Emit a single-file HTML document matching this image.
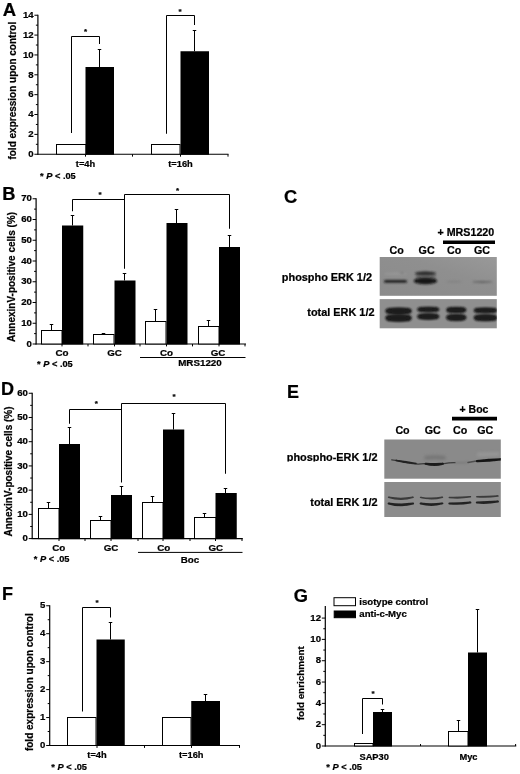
<!DOCTYPE html>
<html><head><meta charset="utf-8"><title>Figure</title>
<style>
html,body{margin:0;padding:0;background:#fff;}
body{width:520px;height:774px;overflow:hidden;}
svg{display:block;}
svg text{font-family:"Liberation Sans",Arial,Helvetica,sans-serif;font-weight:bold;fill:#000;stroke:#000;stroke-width:0.22px;}
</style></head><body>
<svg width="520" height="774" viewBox="0 0 520 774">
<defs>
<filter id="b1" filterUnits="userSpaceOnUse" x="370" y="250" width="140" height="275"><feGaussianBlur stdDeviation="0.9"/></filter>
<filter id="b2" filterUnits="userSpaceOnUse" x="370" y="250" width="140" height="275"><feGaussianBlur stdDeviation="1.3"/></filter>
<filter id="b3" filterUnits="userSpaceOnUse" x="370" y="250" width="140" height="275"><feGaussianBlur stdDeviation="1.8"/></filter>
<filter id="b0" filterUnits="userSpaceOnUse" x="370" y="250" width="140" height="275"><feGaussianBlur stdDeviation="0.7"/></filter>
<linearGradient id="gC1" x1="0" y1="1" x2="1" y2="0"><stop offset="0" stop-color="#8b8b8b"/><stop offset="0.6" stop-color="#8f8f8f"/><stop offset="1" stop-color="#999"/></linearGradient>
</defs>
<rect width="520" height="774" fill="#fff"/>

<g id="panelA">
<text x="2.8" y="15.6" font-size="18.5" text-anchor="start" >A</text>
<line x1="37.9" y1="14.73" x2="37.9" y2="154.75" stroke="#000" stroke-width="1.2"/>
<line x1="34.4" y1="154.25" x2="37.9" y2="154.25" stroke="#000" stroke-width="1"/>
<text x="33.6" y="156.95" font-size="9.6" text-anchor="end" >0</text>
<line x1="34.4" y1="134.39" x2="37.9" y2="134.39" stroke="#000" stroke-width="1"/>
<text x="33.6" y="137.09" font-size="9.6" text-anchor="end" >2</text>
<line x1="34.4" y1="114.53" x2="37.9" y2="114.53" stroke="#000" stroke-width="1"/>
<text x="33.6" y="117.23" font-size="9.6" text-anchor="end" >4</text>
<line x1="34.4" y1="94.67" x2="37.9" y2="94.67" stroke="#000" stroke-width="1"/>
<text x="33.6" y="97.37" font-size="9.6" text-anchor="end" >6</text>
<line x1="34.4" y1="74.81" x2="37.9" y2="74.81" stroke="#000" stroke-width="1"/>
<text x="33.6" y="77.51" font-size="9.6" text-anchor="end" >8</text>
<line x1="34.4" y1="54.95" x2="37.9" y2="54.95" stroke="#000" stroke-width="1"/>
<text x="33.6" y="57.65" font-size="9.6" text-anchor="end" >10</text>
<line x1="34.4" y1="35.09" x2="37.9" y2="35.09" stroke="#000" stroke-width="1"/>
<text x="33.6" y="37.79" font-size="9.6" text-anchor="end" >12</text>
<line x1="34.4" y1="15.23" x2="37.9" y2="15.23" stroke="#000" stroke-width="1"/>
<text x="33.6" y="17.93" font-size="9.6" text-anchor="end" >14</text>
<line x1="35.9" y1="144.32" x2="37.9" y2="144.32" stroke="#000" stroke-width="1"/>
<line x1="35.9" y1="124.46" x2="37.9" y2="124.46" stroke="#000" stroke-width="1"/>
<line x1="35.9" y1="104.6" x2="37.9" y2="104.6" stroke="#000" stroke-width="1"/>
<line x1="35.9" y1="84.74" x2="37.9" y2="84.74" stroke="#000" stroke-width="1"/>
<line x1="35.9" y1="64.88" x2="37.9" y2="64.88" stroke="#000" stroke-width="1"/>
<line x1="35.9" y1="45.02" x2="37.9" y2="45.02" stroke="#000" stroke-width="1"/>
<line x1="35.9" y1="25.16" x2="37.9" y2="25.16" stroke="#000" stroke-width="1"/>
<line x1="37.4" y1="154.25" x2="228.5" y2="154.25" stroke="#000" stroke-width="1.2"/>
<line x1="85.5" y1="154.25" x2="85.5" y2="156.65" stroke="#000" stroke-width="1"/>
<line x1="132.5" y1="154.25" x2="132.5" y2="156.65" stroke="#000" stroke-width="1"/>
<line x1="180.5" y1="154.25" x2="180.5" y2="156.65" stroke="#000" stroke-width="1"/>
<line x1="228" y1="154.25" x2="228" y2="156.65" stroke="#000" stroke-width="1"/>
<text transform="translate(16.2,90.7) rotate(-90)" font-size="10" text-anchor="middle">fold expression upon control</text>
<rect x="56.5" y="144.5" width="29.5" height="9.75" fill="#fff" stroke="#000" stroke-width="1"/>
<rect x="85.5" y="67" width="28.5" height="87.75" fill="#000" stroke="none" stroke-width="0"/>
<line x1="99.5" y1="49.5" x2="99.5" y2="67" stroke="#000" stroke-width="1"/>
<line x1="97.75" y1="49.5" x2="101.25" y2="49.5" stroke="#000" stroke-width="1"/>
<rect x="151.5" y="144.5" width="28.5" height="9.75" fill="#fff" stroke="#000" stroke-width="1"/>
<rect x="180.5" y="51.25" width="28.5" height="103.5" fill="#000" stroke="none" stroke-width="0"/>
<line x1="194.5" y1="30.5" x2="194.5" y2="51.25" stroke="#000" stroke-width="1"/>
<line x1="192.75" y1="30.5" x2="196.25" y2="30.5" stroke="#000" stroke-width="1"/>
<polyline points="71.5,133 71.5,36.5 99.5,36.5 99.5,44" fill="none" stroke="#000" stroke-width="1"/>
<text x="85.6" y="34.15" font-size="8" text-anchor="middle" >*</text>
<polyline points="166.5,133.75 166.5,15.5 194.5,15.5 194.5,25" fill="none" stroke="#000" stroke-width="1"/>
<text x="180" y="13.9" font-size="8" text-anchor="middle" >*</text>
<text x="85.5" y="167" font-size="9.3" text-anchor="middle" >t=4h</text>
<text x="180.5" y="167" font-size="9.3" text-anchor="middle" >t=16h</text>
<text x="40" y="179" font-size="9.25" text-anchor="start" >* <tspan font-style="italic">P</tspan> &lt; .05</text>
</g>
<g id="panelB">
<text x="2.3" y="200" font-size="18.3" text-anchor="start" >B</text>
<line x1="36.1" y1="198.25" x2="36.1" y2="344.5" stroke="#000" stroke-width="1.2"/>
<line x1="32.6" y1="344.0" x2="36.1" y2="344.0" stroke="#000" stroke-width="1"/>
<text x="31.8" y="346.7" font-size="9.6" text-anchor="end" >0</text>
<line x1="32.6" y1="323.25" x2="36.1" y2="323.25" stroke="#000" stroke-width="1"/>
<text x="31.8" y="325.95" font-size="9.6" text-anchor="end" >10</text>
<line x1="32.6" y1="302.5" x2="36.1" y2="302.5" stroke="#000" stroke-width="1"/>
<text x="31.8" y="305.2" font-size="9.6" text-anchor="end" >20</text>
<line x1="32.6" y1="281.75" x2="36.1" y2="281.75" stroke="#000" stroke-width="1"/>
<text x="31.8" y="284.45" font-size="9.6" text-anchor="end" >30</text>
<line x1="32.6" y1="261.0" x2="36.1" y2="261.0" stroke="#000" stroke-width="1"/>
<text x="31.8" y="263.7" font-size="9.6" text-anchor="end" >40</text>
<line x1="32.6" y1="240.25" x2="36.1" y2="240.25" stroke="#000" stroke-width="1"/>
<text x="31.8" y="242.95" font-size="9.6" text-anchor="end" >50</text>
<line x1="32.6" y1="219.5" x2="36.1" y2="219.5" stroke="#000" stroke-width="1"/>
<text x="31.8" y="222.2" font-size="9.6" text-anchor="end" >60</text>
<line x1="32.6" y1="198.75" x2="36.1" y2="198.75" stroke="#000" stroke-width="1"/>
<text x="31.8" y="201.45" font-size="9.6" text-anchor="end" >70</text>
<line x1="34.1" y1="333.62" x2="36.1" y2="333.62" stroke="#000" stroke-width="1"/>
<line x1="34.1" y1="312.88" x2="36.1" y2="312.88" stroke="#000" stroke-width="1"/>
<line x1="34.1" y1="292.12" x2="36.1" y2="292.12" stroke="#000" stroke-width="1"/>
<line x1="34.1" y1="271.38" x2="36.1" y2="271.38" stroke="#000" stroke-width="1"/>
<line x1="34.1" y1="250.62" x2="36.1" y2="250.62" stroke="#000" stroke-width="1"/>
<line x1="34.1" y1="229.88" x2="36.1" y2="229.88" stroke="#000" stroke-width="1"/>
<line x1="34.1" y1="209.12" x2="36.1" y2="209.12" stroke="#000" stroke-width="1"/>
<line x1="35.6" y1="344" x2="246.0" y2="344" stroke="#000" stroke-width="1.2"/>
<line x1="62" y1="344" x2="62" y2="346.4" stroke="#000" stroke-width="1"/>
<line x1="88" y1="344" x2="88" y2="346.4" stroke="#000" stroke-width="1"/>
<line x1="114.5" y1="344" x2="114.5" y2="346.4" stroke="#000" stroke-width="1"/>
<line x1="140" y1="344" x2="140" y2="346.4" stroke="#000" stroke-width="1"/>
<line x1="166.5" y1="344" x2="166.5" y2="346.4" stroke="#000" stroke-width="1"/>
<line x1="192.5" y1="344" x2="192.5" y2="346.4" stroke="#000" stroke-width="1"/>
<line x1="219" y1="344" x2="219" y2="346.4" stroke="#000" stroke-width="1"/>
<line x1="245" y1="344" x2="245" y2="346.4" stroke="#000" stroke-width="1"/>
<text transform="translate(14.6,277) rotate(-90)" font-size="10" text-anchor="middle">AnnexinV-positive cells (%)</text>
<rect x="41.5" y="330.5" width="20.5" height="13.5" fill="#fff" stroke="#000" stroke-width="1"/>
<line x1="51.5" y1="324.5" x2="51.5" y2="330" stroke="#000" stroke-width="1"/>
<line x1="49.75" y1="324.5" x2="53.25" y2="324.5" stroke="#000" stroke-width="1"/>
<rect x="62" y="225.5" width="21.25" height="119.0" fill="#000" stroke="none" stroke-width="0"/>
<line x1="72.5" y1="215.5" x2="72.5" y2="225.5" stroke="#000" stroke-width="1"/>
<line x1="70.75" y1="215.5" x2="74.25" y2="215.5" stroke="#000" stroke-width="1"/>
<rect x="93.5" y="334.5" width="20.5" height="9.5" fill="#fff" stroke="#000" stroke-width="1"/>
<line x1="103.5" y1="333.5" x2="103.5" y2="334.5" stroke="#000" stroke-width="1"/>
<line x1="101.75" y1="333.5" x2="105.25" y2="333.5" stroke="#000" stroke-width="1"/>
<rect x="114.5" y="280.5" width="21.0" height="64.0" fill="#000" stroke="none" stroke-width="0"/>
<line x1="124.5" y1="273.5" x2="124.5" y2="280.5" stroke="#000" stroke-width="1"/>
<line x1="122.75" y1="273.5" x2="126.25" y2="273.5" stroke="#000" stroke-width="1"/>
<rect x="145.5" y="321.5" width="20.5" height="22.5" fill="#fff" stroke="#000" stroke-width="1"/>
<line x1="155.5" y1="309.5" x2="155.5" y2="321.25" stroke="#000" stroke-width="1"/>
<line x1="153.75" y1="309.5" x2="157.25" y2="309.5" stroke="#000" stroke-width="1"/>
<rect x="166.5" y="223" width="21.0" height="121.5" fill="#000" stroke="none" stroke-width="0"/>
<line x1="176.5" y1="209.5" x2="176.5" y2="223" stroke="#000" stroke-width="1"/>
<line x1="174.75" y1="209.5" x2="178.25" y2="209.5" stroke="#000" stroke-width="1"/>
<rect x="198.5" y="326.5" width="20.5" height="17.5" fill="#fff" stroke="#000" stroke-width="1"/>
<line x1="208.5" y1="320.5" x2="208.5" y2="326.5" stroke="#000" stroke-width="1"/>
<line x1="206.75" y1="320.5" x2="210.25" y2="320.5" stroke="#000" stroke-width="1"/>
<rect x="219" y="247" width="21" height="97.5" fill="#000" stroke="none" stroke-width="0"/>
<line x1="229.5" y1="235.5" x2="229.5" y2="247" stroke="#000" stroke-width="1"/>
<line x1="227.75" y1="235.5" x2="231.25" y2="235.5" stroke="#000" stroke-width="1"/>
<polyline points="72.5,211.25 72.5,199.5 124.5,199.5 124.5,200" fill="none" stroke="#000" stroke-width="1"/>
<polyline points="124.5,268.75 124.5,194.5 229.5,194.5 229.5,228.75" fill="none" stroke="#000" stroke-width="1"/>
<text x="100" y="197.4" font-size="8" text-anchor="middle" >*</text>
<text x="177.5" y="193.15" font-size="8" text-anchor="middle" >*</text>
<text x="62" y="355.6" font-size="9.8" text-anchor="middle" >Co</text>
<text x="114.5" y="355.6" font-size="9.8" text-anchor="middle" >GC</text>
<text x="166.5" y="355.6" font-size="9.8" text-anchor="middle" >Co</text>
<text x="218" y="355.6" font-size="9.8" text-anchor="middle" >GC</text>
<line x1="140" y1="357.5" x2="245.5" y2="357.5" stroke="#000" stroke-width="1"/>
<text x="200" y="366" font-size="9.8" text-anchor="middle" >MRS1220</text>
<text x="37" y="367" font-size="9.25" text-anchor="start" >* <tspan font-style="italic">P</tspan> &lt; .05</text>
</g>
<g id="panelC">
<text x="284" y="203" font-size="18.3" text-anchor="start" >C</text>
<text x="437.5" y="235.5" font-size="10.7" text-anchor="start" >+ MRS1220</text>
<rect x="443" y="240.5" width="52" height="3.5" fill="#000" stroke="none" stroke-width="0"/>
<text x="396.6" y="253.8" font-size="10.7" text-anchor="middle" >Co</text>
<text x="426.6" y="253.8" font-size="10.7" text-anchor="middle" >GC</text>
<text x="454.1" y="253.8" font-size="10.7" text-anchor="middle" >Co</text>
<text x="481.9" y="253.8" font-size="10.7" text-anchor="middle" >GC</text>
<text x="372" y="281.3" font-size="10.9" text-anchor="end" >phospho ERK 1/2</text>
<text x="374.5" y="315.5" font-size="10.9" text-anchor="end" >total ERK 1/2</text>
<clipPath id="clipC2"><rect x="379.7" y="299.1" width="117.1" height="29.2"/></clipPath>
<rect x="379.7" y="257" width="117.1" height="38.8" fill="url(#gC1)" stroke="none" stroke-width="0"/>
<rect x="379.7" y="299.1" width="117.1" height="29.2" fill="#8f8f8f" stroke="none" stroke-width="0"/>
<ellipse cx="395.5" cy="273.9" rx="11.5" ry="1.1" fill="#a4a4a4" opacity="0.45" filter="url(#b1)" transform="rotate(0 395.5 273.9)"/>
<ellipse cx="402" cy="273" rx="2" ry="0.8" fill="#666" opacity="0.6" filter="url(#b1)" transform="rotate(0 402 273)"/>
<rect x="384" y="279.95" width="23" height="2.9" rx="1.45" fill="#1e1e1e" opacity="1" filter="url(#b1)"/>
<rect x="416" y="272" width="19.5" height="9" fill="#444" opacity="0.45" filter="url(#b2)"/>
<ellipse cx="425.3" cy="273.4" rx="10.3" ry="1.8" fill="#2e2e2e" opacity="1" filter="url(#b1)" transform="rotate(0 425.3 273.4)"/>
<ellipse cx="425.4" cy="281" rx="11.8" ry="3.3" fill="#121212" opacity="1" filter="url(#b1)" transform="rotate(0 425.4 281)"/>
<ellipse cx="454" cy="281.6" rx="8" ry="0.8" fill="#777" opacity="0.55" filter="url(#b1)" transform="rotate(0 454 281.6)"/>
<ellipse cx="482.4" cy="281.9" rx="10" ry="1" fill="#555" opacity="0.75" filter="url(#b1)" transform="rotate(0 482.4 281.9)"/>
<g clip-path="url(#clipC2)">
<rect x="386.3" y="308.2" width="24.599999999999966" height="5.6000000000000005" rx="2.8000000000000003" fill="#1e1e1e" filter="url(#b1)"/>
<ellipse cx="398.6" cy="311" rx="13.299999999999983" ry="3.2" fill="#1e1e1e" opacity="1" filter="url(#b1)" transform="rotate(0 398.6 311)"/>
<rect x="386.3" y="314.9" width="24.599999999999966" height="6.2" rx="3.1" fill="#1e1e1e" filter="url(#b1)"/>
<ellipse cx="398.6" cy="318" rx="13.299999999999983" ry="3.5" fill="#1e1e1e" opacity="1" filter="url(#b1)" transform="rotate(0 398.6 318)"/>
<rect x="418" y="307.5" width="20.5" height="4.0" rx="2.0" fill="#1e1e1e" filter="url(#b1)"/>
<ellipse cx="428.25" cy="309.5" rx="11.25" ry="2.4" fill="#1e1e1e" opacity="1" filter="url(#b1)" transform="rotate(0 428.25 309.5)"/>
<rect x="418" y="314.0" width="20.5" height="5.0" rx="2.5" fill="#1e1e1e" filter="url(#b1)"/>
<ellipse cx="428.25" cy="316.5" rx="11.25" ry="2.9" fill="#1e1e1e" opacity="1" filter="url(#b1)" transform="rotate(0 428.25 316.5)"/>
<rect x="447" y="307.59999999999997" width="18.5" height="4.8" rx="2.4" fill="#1e1e1e" filter="url(#b1)"/>
<ellipse cx="456.25" cy="310" rx="10.25" ry="2.8" fill="#1e1e1e" opacity="1" filter="url(#b1)" transform="rotate(0 456.25 310)"/>
<rect x="447" y="314.7" width="18.5" height="5.6000000000000005" rx="2.8000000000000003" fill="#1e1e1e" filter="url(#b1)"/>
<ellipse cx="456.25" cy="317.5" rx="10.25" ry="3.2" fill="#1e1e1e" opacity="1" filter="url(#b1)" transform="rotate(0 456.25 317.5)"/>
<rect x="474.6" y="308.19999999999993" width="21.899999999999977" height="4.4" rx="2.2" fill="#1e1e1e" filter="url(#b1)"/>
<ellipse cx="485.55" cy="310.4" rx="11.949999999999989" ry="2.6" fill="#1e1e1e" opacity="1" filter="url(#b1)" transform="rotate(0 485.55 310.4)"/>
<rect x="474.6" y="315.0" width="21.899999999999977" height="5.6000000000000005" rx="2.8000000000000003" fill="#1e1e1e" filter="url(#b1)"/>
<ellipse cx="485.55" cy="317.8" rx="11.949999999999989" ry="3.2" fill="#1e1e1e" opacity="1" filter="url(#b1)" transform="rotate(0 485.55 317.8)"/>
</g>
</g>
<g id="panelD">
<text x="1" y="395" font-size="18" text-anchor="start" >D</text>
<line x1="32.2" y1="392.75" x2="32.2" y2="539.1" stroke="#000" stroke-width="1.2"/>
<line x1="28.700000000000003" y1="538.6" x2="32.2" y2="538.6" stroke="#000" stroke-width="1"/>
<text x="27.900000000000002" y="541.3" font-size="9.6" text-anchor="end" >0</text>
<line x1="28.700000000000003" y1="514.38" x2="32.2" y2="514.38" stroke="#000" stroke-width="1"/>
<text x="27.900000000000002" y="517.08" font-size="9.6" text-anchor="end" >10</text>
<line x1="28.700000000000003" y1="490.15" x2="32.2" y2="490.15" stroke="#000" stroke-width="1"/>
<text x="27.900000000000002" y="492.85" font-size="9.6" text-anchor="end" >20</text>
<line x1="28.700000000000003" y1="465.93" x2="32.2" y2="465.93" stroke="#000" stroke-width="1"/>
<text x="27.900000000000002" y="468.63" font-size="9.6" text-anchor="end" >30</text>
<line x1="28.700000000000003" y1="441.7" x2="32.2" y2="441.7" stroke="#000" stroke-width="1"/>
<text x="27.900000000000002" y="444.4" font-size="9.6" text-anchor="end" >40</text>
<line x1="28.700000000000003" y1="417.48" x2="32.2" y2="417.48" stroke="#000" stroke-width="1"/>
<text x="27.900000000000002" y="420.18" font-size="9.6" text-anchor="end" >50</text>
<line x1="28.700000000000003" y1="393.25" x2="32.2" y2="393.25" stroke="#000" stroke-width="1"/>
<text x="27.900000000000002" y="395.95" font-size="9.6" text-anchor="end" >60</text>
<line x1="30.200000000000003" y1="526.49" x2="32.2" y2="526.49" stroke="#000" stroke-width="1"/>
<line x1="30.200000000000003" y1="502.26" x2="32.2" y2="502.26" stroke="#000" stroke-width="1"/>
<line x1="30.200000000000003" y1="478.04" x2="32.2" y2="478.04" stroke="#000" stroke-width="1"/>
<line x1="30.200000000000003" y1="453.81" x2="32.2" y2="453.81" stroke="#000" stroke-width="1"/>
<line x1="30.200000000000003" y1="429.59" x2="32.2" y2="429.59" stroke="#000" stroke-width="1"/>
<line x1="30.200000000000003" y1="405.36" x2="32.2" y2="405.36" stroke="#000" stroke-width="1"/>
<line x1="31.700000000000003" y1="538.6" x2="242.8" y2="538.6" stroke="#000" stroke-width="1.2"/>
<line x1="59" y1="538.6" x2="59" y2="541.0" stroke="#000" stroke-width="1"/>
<line x1="85" y1="538.6" x2="85" y2="541.0" stroke="#000" stroke-width="1"/>
<line x1="111" y1="538.6" x2="111" y2="541.0" stroke="#000" stroke-width="1"/>
<line x1="138" y1="538.6" x2="138" y2="541.0" stroke="#000" stroke-width="1"/>
<line x1="163" y1="538.6" x2="163" y2="541.0" stroke="#000" stroke-width="1"/>
<line x1="190" y1="538.6" x2="190" y2="541.0" stroke="#000" stroke-width="1"/>
<line x1="215.5" y1="538.6" x2="215.5" y2="541.0" stroke="#000" stroke-width="1"/>
<line x1="242" y1="538.6" x2="242" y2="541.0" stroke="#000" stroke-width="1"/>
<text transform="translate(11.7,471.5) rotate(-90)" font-size="10" text-anchor="middle">AnnexinV-positive cells (%)</text>
<rect x="38.5" y="508.5" width="20.5" height="30.100000000000023" fill="#fff" stroke="#000" stroke-width="1"/>
<line x1="48.5" y1="502.5" x2="48.5" y2="508.75" stroke="#000" stroke-width="1"/>
<line x1="46.75" y1="502.5" x2="50.25" y2="502.5" stroke="#000" stroke-width="1"/>
<rect x="59" y="444" width="21" height="95.1" fill="#000" stroke="none" stroke-width="0"/>
<line x1="69.5" y1="427.5" x2="69.5" y2="444" stroke="#000" stroke-width="1"/>
<line x1="67.75" y1="427.5" x2="71.25" y2="427.5" stroke="#000" stroke-width="1"/>
<rect x="90.5" y="520.5" width="20.5" height="18.100000000000023" fill="#fff" stroke="#000" stroke-width="1"/>
<line x1="100.5" y1="516.5" x2="100.5" y2="520.5" stroke="#000" stroke-width="1"/>
<line x1="98.75" y1="516.5" x2="102.25" y2="516.5" stroke="#000" stroke-width="1"/>
<rect x="111" y="495" width="21" height="44.1" fill="#000" stroke="none" stroke-width="0"/>
<line x1="121.5" y1="486.5" x2="121.5" y2="495" stroke="#000" stroke-width="1"/>
<line x1="119.75" y1="486.5" x2="123.25" y2="486.5" stroke="#000" stroke-width="1"/>
<rect x="142.5" y="502.5" width="20.5" height="36.10000000000002" fill="#fff" stroke="#000" stroke-width="1"/>
<line x1="152.5" y1="496.5" x2="152.5" y2="502" stroke="#000" stroke-width="1"/>
<line x1="150.75" y1="496.5" x2="154.25" y2="496.5" stroke="#000" stroke-width="1"/>
<rect x="163" y="429.5" width="21.25" height="109.6" fill="#000" stroke="none" stroke-width="0"/>
<line x1="173.5" y1="413.5" x2="173.5" y2="429.5" stroke="#000" stroke-width="1"/>
<line x1="171.75" y1="413.5" x2="175.25" y2="413.5" stroke="#000" stroke-width="1"/>
<rect x="194.5" y="517.5" width="21.5" height="21.100000000000023" fill="#fff" stroke="#000" stroke-width="1"/>
<line x1="204.5" y1="513.5" x2="204.5" y2="517.5" stroke="#000" stroke-width="1"/>
<line x1="202.75" y1="513.5" x2="206.25" y2="513.5" stroke="#000" stroke-width="1"/>
<rect x="215.5" y="493" width="21.25" height="46.1" fill="#000" stroke="none" stroke-width="0"/>
<line x1="225.5" y1="488.5" x2="225.5" y2="493" stroke="#000" stroke-width="1"/>
<line x1="223.75" y1="488.5" x2="227.25" y2="488.5" stroke="#000" stroke-width="1"/>
<polyline points="69.5,423.75 69.5,409.5 121.5,409.5 121.5,410" fill="none" stroke="#000" stroke-width="1"/>
<polyline points="121.5,482.5 121.5,403.5 225.5,403.5 225.5,473.75" fill="none" stroke="#000" stroke-width="1"/>
<text x="96.25" y="406.4" font-size="8" text-anchor="middle" >*</text>
<text x="174" y="398.9" font-size="8" text-anchor="middle" >*</text>
<text x="58.75" y="551" font-size="9.8" text-anchor="middle" >Co</text>
<text x="111" y="551" font-size="9.8" text-anchor="middle" >GC</text>
<text x="163.75" y="551" font-size="9.8" text-anchor="middle" >Co</text>
<text x="215.75" y="551" font-size="9.8" text-anchor="middle" >GC</text>
<line x1="138" y1="552.4" x2="242.5" y2="552.4" stroke="#000" stroke-width="1"/>
<text x="190" y="563" font-size="9.8" text-anchor="middle" >Boc</text>
<text x="33.75" y="562" font-size="9.25" text-anchor="start" >* <tspan font-style="italic">P</tspan> &lt; .05</text>
</g>
<g id="panelE">
<text x="287" y="398" font-size="18" text-anchor="start" >E</text>
<text x="459.5" y="412.5" font-size="10.5" text-anchor="start" >+ Boc</text>
<rect x="452" y="416.75" width="45" height="3.75" fill="#000" stroke="none" stroke-width="0"/>
<text x="402.5" y="433.8" font-size="10.7" text-anchor="middle" >Co</text>
<text x="432.7" y="433.8" font-size="10.7" text-anchor="middle" >GC</text>
<text x="460.2" y="433.8" font-size="10.7" text-anchor="middle" >Co</text>
<text x="485.2" y="433.8" font-size="10.7" text-anchor="middle" >GC</text>
<clipPath id="clipE1"><rect x="384.3" y="439.5" width="116.5" height="39.2"/></clipPath>
<clipPath id="clipE"><rect x="280" y="440" width="100" height="21.5"/></clipPath>
<text x="377.5" y="460.7" font-size="10.9" text-anchor="end" clip-path="url(#clipE)">phospho-ERK 1/2</text>
<text x="377.5" y="505.5" font-size="10.9" text-anchor="end" >total ERK 1/2</text>
<rect x="384.3" y="439.5" width="116.5" height="39.2" fill="#8a8a8a" stroke="none" stroke-width="0"/>
<rect x="384.3" y="482" width="116.5" height="35" fill="#8c8c8c" stroke="none" stroke-width="0"/>
<g clip-path="url(#clipE1)">
<path d="M391.7,459.8 Q399,460.4 407,462.6 T424.3,463.7" fill="none" stroke="#3a3a3a" stroke-width="1.3" stroke-linecap="round" opacity="1" filter="url(#b0)"/>
<path d="M396,460.5 Q406.0,461.65 416,463.4 Q406.0,463.25 396,460.5 Z" fill="#222" stroke="#222" stroke-width="1.5" stroke-linejoin="round" opacity="1" filter="url(#b0)"/>
<path d="M424,463.6 Q433,465.2 442,463.8 T455,462.6" fill="none" stroke="#3c3c3c" stroke-width="1.3" stroke-linecap="round" opacity="1" filter="url(#b0)"/>
<path d="M425.5,463.7 Q434.25,464.15 443,463.8 Q434.25,466.15 425.5,463.7 Z" fill="#1c1c1c" stroke="#1c1c1c" stroke-width="2.0" stroke-linejoin="round" opacity="1" filter="url(#b0)"/>
<path d="M426,457.8 Q435,456.8 444,457.8" fill="none" stroke="#606060" stroke-width="3.4" stroke-linecap="round" opacity="0.55" filter="url(#b3)"/>
<path d="M455,462.6 Q461,462.8 468,462.4" fill="none" stroke="#666" stroke-width="1.2" stroke-linecap="round" opacity="0.6" filter="url(#b2)"/>
<path d="M468,462.4 Q472,462 476.5,461" fill="none" stroke="#444" stroke-width="1.5" stroke-linecap="round" opacity="0.85" filter="url(#b0)"/>
<path d="M477,461.2 Q489.0,459.35 501,459.3 Q489.0,460.75 477,461.2 Z" fill="#161616" stroke="#161616" stroke-width="2.2" stroke-linejoin="round" opacity="1" filter="url(#b0)"/>
<path d="M479,454.6 Q488,454 498,454" fill="none" stroke="#a4a4a4" stroke-width="4" stroke-linecap="round" opacity="0.5" filter="url(#b3)"/>
</g>
<path d="M388.6,497.3 Q400.85,499.5 413.1,497.3 Q400.85,501.1 388.6,497.3 Z" fill="#3a3a3a" stroke="#3a3a3a" stroke-width="1.5" stroke-linejoin="round" opacity="1" filter="url(#b0)"/>
<path d="M388.6,503.5 Q400.85,505.25 413.1,503.6 Q400.85,507.05 388.6,503.5 Z" fill="#232323" stroke="#232323" stroke-width="2.0" stroke-linejoin="round" opacity="1" filter="url(#b0)"/>
<path d="M420.6,497.4 Q431.5,499.15 442.4,497.3 Q431.5,500.35 420.6,497.4 Z" fill="#3a3a3a" stroke="#3a3a3a" stroke-width="1.5" stroke-linejoin="round" opacity="1" filter="url(#b0)"/>
<path d="M420.6,503.5 Q431.5,504.85 442.4,503.4 Q431.5,506.45 420.6,503.5 Z" fill="#232323" stroke="#232323" stroke-width="2.0" stroke-linejoin="round" opacity="1" filter="url(#b0)"/>
<path d="M449.3,497.5 Q459.85,497.75 470.4,496.8 Q459.85,498.55 449.3,497.5 Z" fill="#3a3a3a" stroke="#3a3a3a" stroke-width="1.5" stroke-linejoin="round" opacity="1" filter="url(#b0)"/>
<path d="M449.3,503.4 Q459.85,503.35 470.4,502.5 Q459.85,504.55 449.3,503.4 Z" fill="#232323" stroke="#232323" stroke-width="2.0" stroke-linejoin="round" opacity="1" filter="url(#b0)"/>
<path d="M476.8,496.8 Q487.4,496.8 498,496.0 Q487.4,497.6 476.8,496.8 Z" fill="#3a3a3a" stroke="#3a3a3a" stroke-width="1.5" stroke-linejoin="round" opacity="1" filter="url(#b0)"/>
<path d="M476.8,502.6 Q487.4,502.3 498,501.6 Q487.4,503.5 476.8,502.6 Z" fill="#232323" stroke="#232323" stroke-width="2.0" stroke-linejoin="round" opacity="1" filter="url(#b0)"/>
</g>
<g id="panelF">
<text x="2" y="600" font-size="18" text-anchor="start" >F</text>
<line x1="49.7" y1="605.25" x2="49.7" y2="746.0" stroke="#000" stroke-width="1.2"/>
<line x1="46.2" y1="745.5" x2="49.7" y2="745.5" stroke="#000" stroke-width="1"/>
<text x="45.400000000000006" y="748.2" font-size="9.6" text-anchor="end" >0</text>
<line x1="46.2" y1="717.55" x2="49.7" y2="717.55" stroke="#000" stroke-width="1"/>
<text x="45.400000000000006" y="720.25" font-size="9.6" text-anchor="end" >1</text>
<line x1="46.2" y1="689.6" x2="49.7" y2="689.6" stroke="#000" stroke-width="1"/>
<text x="45.400000000000006" y="692.3" font-size="9.6" text-anchor="end" >2</text>
<line x1="46.2" y1="661.65" x2="49.7" y2="661.65" stroke="#000" stroke-width="1"/>
<text x="45.400000000000006" y="664.35" font-size="9.6" text-anchor="end" >3</text>
<line x1="46.2" y1="633.7" x2="49.7" y2="633.7" stroke="#000" stroke-width="1"/>
<text x="45.400000000000006" y="636.4" font-size="9.6" text-anchor="end" >4</text>
<line x1="46.2" y1="605.75" x2="49.7" y2="605.75" stroke="#000" stroke-width="1"/>
<text x="45.400000000000006" y="608.45" font-size="9.6" text-anchor="end" >5</text>
<line x1="47.7" y1="731.52" x2="49.7" y2="731.52" stroke="#000" stroke-width="1"/>
<line x1="47.7" y1="703.58" x2="49.7" y2="703.58" stroke="#000" stroke-width="1"/>
<line x1="47.7" y1="675.62" x2="49.7" y2="675.62" stroke="#000" stroke-width="1"/>
<line x1="47.7" y1="647.67" x2="49.7" y2="647.67" stroke="#000" stroke-width="1"/>
<line x1="47.7" y1="619.73" x2="49.7" y2="619.73" stroke="#000" stroke-width="1"/>
<line x1="49.2" y1="745.5" x2="240.0" y2="745.5" stroke="#000" stroke-width="1.2"/>
<line x1="97" y1="745.5" x2="97" y2="747.9" stroke="#000" stroke-width="1"/>
<line x1="144.5" y1="745.5" x2="144.5" y2="747.9" stroke="#000" stroke-width="1"/>
<line x1="191.5" y1="745.5" x2="191.5" y2="747.9" stroke="#000" stroke-width="1"/>
<line x1="239.5" y1="745.5" x2="239.5" y2="747.9" stroke="#000" stroke-width="1"/>
<text transform="translate(33.3,682.2) rotate(-90)" font-size="10" text-anchor="middle">fold expression upon control</text>
<rect x="67.5" y="717.5" width="28.5" height="28.0" fill="#fff" stroke="#000" stroke-width="1"/>
<rect x="96.5" y="639.5" width="28.25" height="106.5" fill="#000" stroke="none" stroke-width="0"/>
<line x1="110.5" y1="622.5" x2="110.5" y2="639.5" stroke="#000" stroke-width="1"/>
<line x1="108.75" y1="622.5" x2="112.25" y2="622.5" stroke="#000" stroke-width="1"/>
<rect x="162.5" y="717.5" width="28.5" height="28.0" fill="#fff" stroke="#000" stroke-width="1"/>
<rect x="191.25" y="701" width="28.75" height="45.0" fill="#000" stroke="none" stroke-width="0"/>
<line x1="205.5" y1="694.5" x2="205.5" y2="701" stroke="#000" stroke-width="1"/>
<line x1="203.75" y1="694.5" x2="207.25" y2="694.5" stroke="#000" stroke-width="1"/>
<polyline points="82.5,711.5 82.5,607.5 110.5,607.5 110.5,617.5" fill="none" stroke="#000" stroke-width="1"/>
<text x="97" y="605.4" font-size="8" text-anchor="middle" >*</text>
<text x="97" y="758" font-size="9.3" text-anchor="middle" >t=4h</text>
<text x="191.25" y="758" font-size="9.3" text-anchor="middle" >t=16h</text>
<text x="51.25" y="769.75" font-size="9.25" text-anchor="start" >* <tspan font-style="italic">P</tspan> &lt; .05</text>
</g>
<g id="panelG">
<text x="293.8" y="601.8" font-size="18.3" text-anchor="start" >G</text>
<line x1="325.3" y1="606.0" x2="325.3" y2="746.5" stroke="#000" stroke-width="1.2"/>
<line x1="321.8" y1="746.0" x2="325.3" y2="746.0" stroke="#000" stroke-width="1"/>
<text x="321.0" y="748.7" font-size="9.6" text-anchor="end" >0</text>
<line x1="321.8" y1="724.68" x2="325.3" y2="724.68" stroke="#000" stroke-width="1"/>
<text x="321.0" y="727.38" font-size="9.6" text-anchor="end" >2</text>
<line x1="321.8" y1="703.36" x2="325.3" y2="703.36" stroke="#000" stroke-width="1"/>
<text x="321.0" y="706.06" font-size="9.6" text-anchor="end" >4</text>
<line x1="321.8" y1="682.04" x2="325.3" y2="682.04" stroke="#000" stroke-width="1"/>
<text x="321.0" y="684.74" font-size="9.6" text-anchor="end" >6</text>
<line x1="321.8" y1="660.72" x2="325.3" y2="660.72" stroke="#000" stroke-width="1"/>
<text x="321.0" y="663.42" font-size="9.6" text-anchor="end" >8</text>
<line x1="321.8" y1="639.4" x2="325.3" y2="639.4" stroke="#000" stroke-width="1"/>
<text x="321.0" y="642.1" font-size="9.6" text-anchor="end" >10</text>
<line x1="321.8" y1="618.08" x2="325.3" y2="618.08" stroke="#000" stroke-width="1"/>
<text x="321.0" y="620.78" font-size="9.6" text-anchor="end" >12</text>
<line x1="323.3" y1="735.34" x2="325.3" y2="735.34" stroke="#000" stroke-width="1"/>
<line x1="323.3" y1="714.02" x2="325.3" y2="714.02" stroke="#000" stroke-width="1"/>
<line x1="323.3" y1="692.7" x2="325.3" y2="692.7" stroke="#000" stroke-width="1"/>
<line x1="323.3" y1="671.38" x2="325.3" y2="671.38" stroke="#000" stroke-width="1"/>
<line x1="323.3" y1="650.06" x2="325.3" y2="650.06" stroke="#000" stroke-width="1"/>
<line x1="323.3" y1="628.74" x2="325.3" y2="628.74" stroke="#000" stroke-width="1"/>
<line x1="324.8" y1="746.0" x2="516.25" y2="746.0" stroke="#000" stroke-width="1.2"/>
<line x1="420.5" y1="746.0" x2="420.5" y2="744.0" stroke="#000" stroke-width="1"/>
<line x1="515.6" y1="746.0" x2="515.6" y2="744.0" stroke="#000" stroke-width="1"/>
<text transform="translate(304.2,683.2) rotate(-90)" font-size="9.87" text-anchor="middle">fold enrichment</text>
<rect x="334" y="597.7" width="21.5" height="8" fill="#fff" stroke="#000" stroke-width="1"/>
<rect x="334.2" y="611" width="21.3" height="6.7" fill="#000" stroke="#000" stroke-width="1"/>
<text x="359.3" y="605" font-size="9.6" text-anchor="start" >isotype control</text>
<text x="359.3" y="617.2" font-size="9.6" text-anchor="start" >anti-c-Myc</text>
<rect x="354.5" y="743.5" width="18.5" height="2.5" fill="#fff" stroke="#000" stroke-width="1"/>
<line x1="363.5" y1="743.5" x2="363.5" y2="743.6" stroke="#000" stroke-width="1"/>
<line x1="362.3" y1="743.5" x2="364.7" y2="743.5" stroke="#000" stroke-width="1"/>
<rect x="373" y="712" width="19" height="34.5" fill="#000" stroke="none" stroke-width="0"/>
<line x1="382.5" y1="709.5" x2="382.5" y2="712" stroke="#000" stroke-width="1"/>
<line x1="380.75" y1="709.5" x2="384.25" y2="709.5" stroke="#000" stroke-width="1"/>
<rect x="448.5" y="731.5" width="19.5" height="14.5" fill="#fff" stroke="#000" stroke-width="1"/>
<line x1="458.5" y1="720.5" x2="458.5" y2="731.5" stroke="#000" stroke-width="1"/>
<line x1="456.75" y1="720.5" x2="460.25" y2="720.5" stroke="#000" stroke-width="1"/>
<rect x="468" y="652.5" width="19" height="94.0" fill="#000" stroke="none" stroke-width="0"/>
<line x1="477.5" y1="609.5" x2="477.5" y2="652.5" stroke="#000" stroke-width="1"/>
<line x1="475.75" y1="609.5" x2="479.25" y2="609.5" stroke="#000" stroke-width="1"/>
<polyline points="362.5,734 362.5,698.5 382.5,698.5 382.5,704.5" fill="none" stroke="#000" stroke-width="1"/>
<text x="373" y="696.4" font-size="8" text-anchor="middle" >*</text>
<text x="374.2" y="760.3" font-size="9.3" text-anchor="middle" >SAP30</text>
<text x="468.5" y="760.3" font-size="9.3" text-anchor="middle" >Myc</text>
<text x="326.25" y="769.75" font-size="9.25" text-anchor="start" >* <tspan font-style="italic">P</tspan> &lt; .05</text>
</g>
</svg>
</body></html>
